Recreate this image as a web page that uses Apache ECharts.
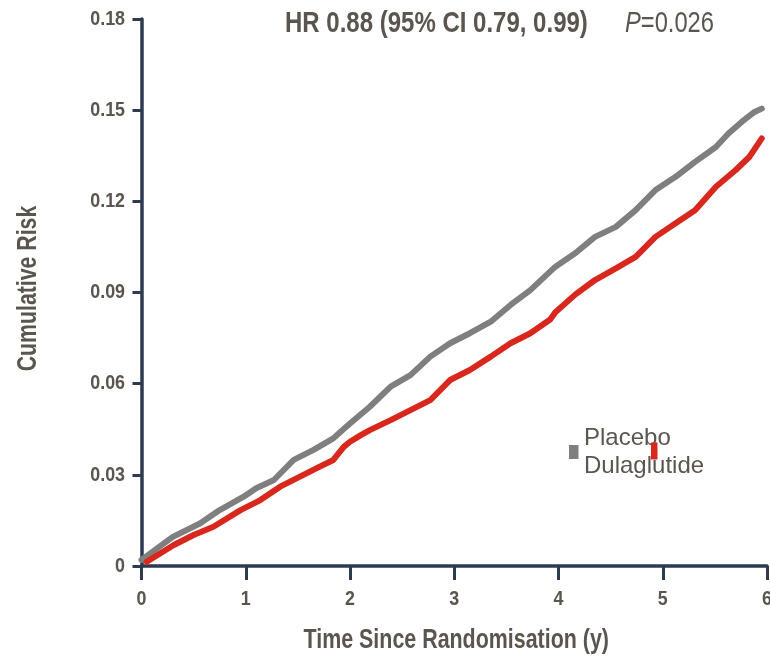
<!DOCTYPE html>
<html>
<head>
<meta charset="utf-8">
<script src="https://cdn.jsdelivr.net/npm/echarts@6/dist/echarts.min.js"></script>
<style>
html,body{margin:0;padding:0;background:#fff;}
#c{width:770px;height:658px;}
</style>
</head>
<body>
<div id="c"></div>
<script>
// ---- data ----
var placeboT = [0.00,0.30,0.56,0.75,0.98,1.10,1.27,1.46,1.65,1.84,1.91,2.00,2.19,2.39,2.58,2.77,2.96,3.15,3.35,3.54,3.73,3.97,4.16,4.35,4.55,4.74,4.93,5.12,5.31,5.51,5.63,5.76,5.88,5.95];
var placeboV = [0.0020,0.0096,0.0140,0.0184,0.0228,0.0256,0.0283,0.0349,0.0382,0.0420,0.0442,0.0469,0.0524,0.0590,0.0628,0.0689,0.0733,0.0766,0.0804,0.0859,0.0908,0.0985,0.1029,0.1083,0.1116,0.1171,0.1237,0.1280,0.1330,0.1379,0.1423,0.1462,0.1494,0.1505];
var dulaT = [0.05,0.31,0.50,0.69,0.95,1.14,1.33,1.52,1.71,1.84,1.94,2.00,2.10,2.19,2.39,2.58,2.77,2.96,3.15,3.35,3.54,3.73,3.92,3.97,4.16,4.35,4.55,4.74,4.93,5.12,5.31,5.51,5.70,5.83,5.95];
var dulaV = [0.0014,0.0069,0.0102,0.0129,0.0184,0.0217,0.0261,0.0294,0.0327,0.0349,0.0392,0.0409,0.0430,0.0447,0.0480,0.0513,0.0546,0.0612,0.0645,0.0689,0.0733,0.0766,0.0811,0.0835,0.0893,0.0941,0.0979,0.1017,0.1083,0.1127,0.1171,0.1248,0.1303,0.1346,0.1407];
var seriesNames = ['Placebo','Dulaglutide'];
var xTicks = [0,1,2,3,4,5,6];
var yTicks = [0,0.03,0.06,0.09,0.12,0.15,0.18];
var xTickLabels = ['0','1','2','3','4','5','6'];
var yTickLabels = ['0','0.03','0.06','0.09','0.12','0.15','0.18'];
var titleMain = 'HR 0.88 (95% CI 0.79, 0.99)';
var titleP = '=0.026';
var xName = 'Time Since Randomisation (y)';
var yName = 'Cumulative Risk';

// ---- styling ----
var FF = "'Liberation Sans',Arial,sans-serif";
var TXT = '#5a554f';
var AX = '#2e3a4f';
var GRAY = '#7f7f7f';
var RED = '#d8281e';

function pairs(t, v){ return t.map(function(x,i){ return [x, v[i]]; }); }

var chart = echarts.init(document.getElementById('c'));
chart.setOption({
  animation:false,
  backgroundColor:'#fff',
  grid:{left:141.5, right:3, top:19, bottom:92, containLabel:false},
  xAxis:{
    type:'value', min:xTicks[0], max:xTicks[xTicks.length-1], interval:1,
    axisLine:{show:true, onZero:false, lineStyle:{color:AX, width:3.5}},
    axisTick:{show:true, inside:false, length:14, lineStyle:{color:AX, width:3}},
    axisLabel:{show:false},
    splitLine:{show:false}
  },
  yAxis:{
    type:'value', min:yTicks[0], max:yTicks[yTicks.length-1], interval:0.03,
    axisLine:{show:true, lineStyle:{color:AX, width:3.5}},
    axisTick:{show:true, inside:false, length:9, lineStyle:{color:AX, width:3}},
    axisLabel:{show:false},
    splitLine:{show:false}
  },
  series:[
    {name:seriesNames[0], type:'line', data:pairs(placeboT, placeboV), showSymbol:false,
     lineStyle:{color:GRAY, width:6, cap:'round', join:'round'}, itemStyle:{color:GRAY}, z:2},
    {name:seriesNames[1], type:'line', data:pairs(dulaT, dulaV), showSymbol:false,
     lineStyle:{color:RED, width:6, cap:'round', join:'round'}, itemStyle:{color:RED}, z:3}
  ]
});

// text drawn as condensed (scaled) text, placed via the chart's own scales
var g = [];
xTicks.forEach(function(v, i){
  var p = chart.convertToPixel({xAxisIndex:0}, v);
  g.push({type:'text', x:p, y:599, scaleX:0.85,
    style:{text:xTickLabels[i], font:'bold 21px ' + FF, fill:TXT, align:'center', verticalAlign:'middle'}});
});
yTicks.forEach(function(v, i){
  var p = chart.convertToPixel({yAxisIndex:0}, v);
  g.push({type:'text', x:125, y:p, scaleX:0.85,
    style:{text:yTickLabels[i], font:'bold 21px ' + FF, fill:TXT, align:'right', verticalAlign:'middle'}});
});
var gx0 = chart.convertToPixel({xAxisIndex:0}, xTicks[0]);
var gx1 = chart.convertToPixel({xAxisIndex:0}, xTicks[xTicks.length-1]);
var gy0 = chart.convertToPixel({yAxisIndex:0}, yTicks[0]);
var gy1 = chart.convertToPixel({yAxisIndex:0}, yTicks[yTicks.length-1]);
g.push({type:'text', x:(gx0+gx1)/2 + 2, y:640, scaleX:0.765,
  style:{text:xName, font:'bold 28px ' + FF, fill:TXT, align:'center', verticalAlign:'middle'}});
g.push({type:'text', x:28, y:(gy0+gy1)/2 - 4, rotation:Math.PI/2, scaleX:0.76,
  style:{text:yName, font:'bold 28px ' + FF, fill:TXT, align:'center', verticalAlign:'middle'}});
g.push({type:'text', x:285, y:24, scaleX:0.80,
  style:{text:titleMain, font:'bold 30px ' + FF, fill:TXT, align:'left', verticalAlign:'middle'}});
g.push({type:'text', x:625, y:24, scaleX:0.79,
  style:{text:'{i|P}{n|' + titleP + '}', fill:TXT, align:'left', verticalAlign:'middle',
    rich:{i:{fontFamily:FF, fontStyle:'italic', fontSize:30, fill:TXT, color:TXT},
          n:{fontFamily:FF, fontSize:30, fill:TXT, color:TXT}}}});
// legend
g.push({type:'rect', shape:{x:569, y:445, width:9.5, height:14}, style:{fill:GRAY}});
g.push({type:'text', x:584, y:438, style:{text:seriesNames[0], font:'24px ' + FF, fill:TXT, align:'left', verticalAlign:'middle'}});
g.push({type:'text', x:584, y:466, style:{text:seriesNames[1], font:'24px ' + FF, fill:TXT, align:'left', verticalAlign:'middle'}});
g.push({type:'rect', shape:{x:651, y:442.5, width:6.5, height:17}, style:{fill:RED}, z:10});

chart.setOption({graphic:g});
</script>
</body>
</html>
